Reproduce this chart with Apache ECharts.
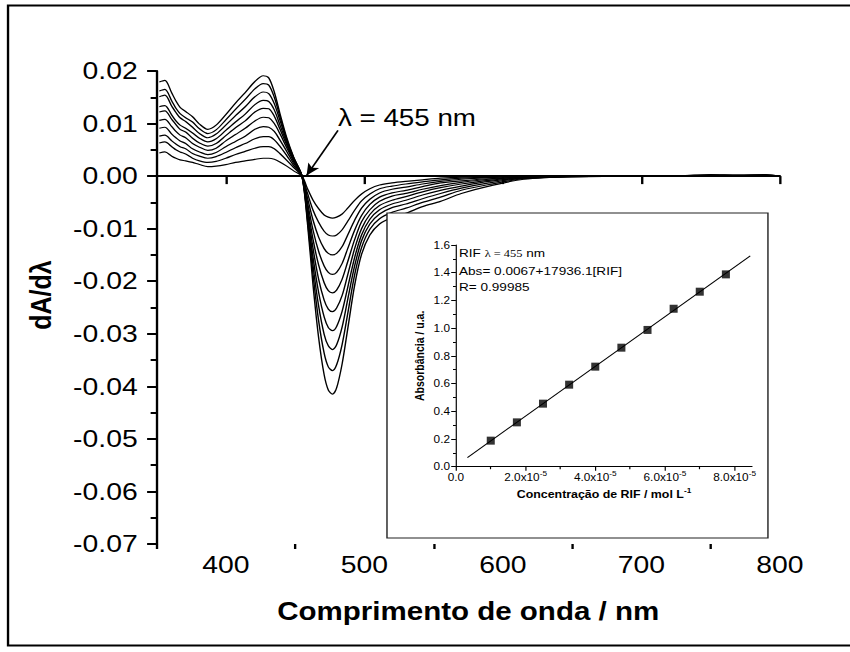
<!DOCTYPE html>
<html>
<head>
<meta charset="utf-8">
<script src="https://cdn.jsdelivr.net/npm/echarts@6/dist/echarts.min.js"></script>
<style>
  html, body { margin: 0; padding: 0; background: #fff; overflow: hidden; }
  /* the reference picture is stretched sideways, so draw at 720 px and stretch to 850 */
  #chart { width: 720px; height: 652px; transform: scaleX(1.180556); transform-origin: 0 0; }
</style>
</head>
<body>
<div id="chart"></div>
<script>
// wavelength grid (nm)
const wavelengths = [352, 356, 361, 364, 367, 371, 376, 381, 387, 393, 400, 407, 414, 421, 427, 431, 435, 439, 444, 449, 455,
  459, 463, 467, 471, 474, 477, 480, 484, 488, 493, 498, 504, 511, 520, 530, 542, 555, 570, 590, 615, 650, 700, 730, 750, 770, 790, 800];

// first derivative spectra dA/dλ, lowest concentration first
const dA1 = [0.0044, 0.0046, 0.0038, 0.0034, 0.0031, 0.0029, 0.0026, 0.0022, 0.0018, 0.0019, 0.0022, 0.0026, 0.0029, 0.0032, 0.0034, 0.0034, 0.0032, 0.0027, 0.0019, 0.0010, 0,
  -0.0024, -0.0046, -0.0062, -0.0074, -0.0078, -0.0080, -0.0078, -0.0072, -0.0061, -0.0046, -0.0034, -0.0024, -0.0017, -0.0013, -0.0010, -0.0007, -0.0004, -0.0002, -0.0001, 0, 0, 0, 0, 0, 0, 0, 0];
const dA2 = [0.0063, 0.0065, 0.0056, 0.0050, 0.0046, 0.0042, 0.0034, 0.0029, 0.0026, 0.0028, 0.0034, 0.0041, 0.0047, 0.0053, 0.0056, 0.0056, 0.0052, 0.0043, 0.0030, 0.0016, 0,
  -0.0033, -0.0065, -0.0088, -0.0105, -0.0112, -0.0114, -0.0112, -0.0102, -0.0086, -0.0065, -0.0047, -0.0034, -0.0024, -0.0019, -0.0015, -0.0011, -0.0007, -0.0004, -0.0002, -0.0001, 0, 0, 0, 0, 0, 0, 0];
const dA3 = [0.0076, 0.0078, 0.0067, 0.0061, 0.0056, 0.0052, 0.0043, 0.0038, 0.0034, 0.0037, 0.0045, 0.0054, 0.0062, 0.0071, 0.0075, 0.0075, 0.0069, 0.0057, 0.0039, 0.0020, 0,
  -0.0042, -0.0084, -0.0116, -0.0138, -0.0147, -0.0150, -0.0147, -0.0134, -0.0112, -0.0084, -0.0061, -0.0044, -0.0032, -0.0025, -0.0021, -0.0015, -0.0010, -0.0006, -0.0003, -0.0001, 0, 0, 0, 0, 0, 0, 0];
const dA4 = [0.0091, 0.0093, 0.0080, 0.0073, 0.0067, 0.0062, 0.0052, 0.0046, 0.0041, 0.0045, 0.0056, 0.0066, 0.0076, 0.0089, 0.0094, 0.0093, 0.0085, 0.0069, 0.0047, 0.0024, 0,
  -0.0051, -0.0103, -0.0143, -0.0171, -0.0183, -0.0187, -0.0183, -0.0166, -0.0138, -0.0103, -0.0075, -0.0054, -0.0040, -0.0032, -0.0027, -0.0020, -0.0013, -0.0009, -0.0005, -0.0002, 0, 0, 0, 0, 0, 0, 0];
const dA5 = [0.0106, 0.0108, 0.0094, 0.0085, 0.0078, 0.0073, 0.0062, 0.0055, 0.0049, 0.0053, 0.0067, 0.0079, 0.0091, 0.0105, 0.0112, 0.0111, 0.0100, 0.0081, 0.0054, 0.0028, 0,
  -0.0059, -0.0121, -0.0169, -0.0203, -0.0218, -0.0222, -0.0217, -0.0196, -0.0163, -0.0121, -0.0087, -0.0064, -0.0048, -0.0038, -0.0033, -0.0025, -0.0018, -0.0012, -0.0006, -0.0002, 0, 0, 0, 0, 0, 0, 0];
const dA6 = [0.0122, 0.0124, 0.0108, 0.0098, 0.0089, 0.0084, 0.0072, 0.0063, 0.0057, 0.0062, 0.0077, 0.0092, 0.0105, 0.0122, 0.0129, 0.0128, 0.0114, 0.0090, 0.0059, 0.0030, 0,
  -0.0066, -0.0138, -0.0196, -0.0236, -0.0253, -0.0258, -0.0251, -0.0227, -0.0188, -0.0138, -0.0100, -0.0073, -0.0056, -0.0046, -0.0039, -0.0030, -0.0022, -0.0015, -0.0008, -0.0003, 0, 0, 0, 0, 0, 0, 0];
const dA7 = [0.0132, 0.0134, 0.0116, 0.0105, 0.0097, 0.0091, 0.0082, 0.0072, 0.0065, 0.0071, 0.0087, 0.0103, 0.0118, 0.0136, 0.0144, 0.0142, 0.0126, 0.0098, 0.0063, 0.0032, 0,
  -0.0073, -0.0155, -0.0221, -0.0268, -0.0288, -0.0294, -0.0286, -0.0257, -0.0212, -0.0155, -0.0112, -0.0082, -0.0064, -0.0053, -0.0046, -0.0036, -0.0027, -0.0019, -0.0010, -0.0004, -0.0001, 0, 0, 0, 0, 0, 0];
const dA8 = [0.0151, 0.0154, 0.0133, 0.0121, 0.0111, 0.0104, 0.0093, 0.0081, 0.0073, 0.0080, 0.0097, 0.0115, 0.0132, 0.0151, 0.0160, 0.0157, 0.0138, 0.0107, 0.0067, 0.0034, 0,
  -0.0079, -0.0171, -0.0247, -0.0301, -0.0323, -0.0330, -0.0321, -0.0287, -0.0235, -0.0171, -0.0123, -0.0091, -0.0072, -0.0060, -0.0053, -0.0043, -0.0033, -0.0023, -0.0013, -0.0004, -0.0001, 0, 0, 0.0002, 0.0001, 0.0002, 0];
const dA9 = [0.0162, 0.0165, 0.0143, 0.0129, 0.0119, 0.0111, 0.0103, 0.0090, 0.0081, 0.0088, 0.0107, 0.0127, 0.0146, 0.0166, 0.0176, 0.0173, 0.0150, 0.0114, 0.0070, 0.0035, 0,
  -0.0085, -0.0188, -0.0275, -0.0337, -0.0363, -0.0370, -0.0359, -0.0320, -0.0262, -0.0188, -0.0136, -0.0101, -0.0081, -0.0069, -0.0061, -0.0050, -0.0040, -0.0027, -0.0016, -0.0005, -0.0001, 0, 0.0001, 0.0002, 0.0002, 0.0002, 0];
const dA10 = [0.0179, 0.0182, 0.0158, 0.0143, 0.0131, 0.0123, 0.0113, 0.0099, 0.0089, 0.0097, 0.0117, 0.0139, 0.0159, 0.0180, 0.0191, 0.0187, 0.0160, 0.0120, 0.0073, 0.0036, 0,
  -0.0091, -0.0208, -0.0307, -0.0378, -0.0407, -0.0415, -0.0403, -0.0357, -0.0291, -0.0208, -0.0149, -0.0112, -0.0091, -0.0079, -0.0071, -0.0058, -0.0048, -0.0033, -0.0019, -0.0006, -0.0001, 0, 0.0001, 0.0003, 0.0002, 0.0003, 0];

// tick values of the main x axis
const xMajorTicks = [400, 500, 600, 700, 800];
const xMinorTicks = [350, 450, 550, 650, 750];

// inset: calibration curve at 455 nm
const concentrations = [1.0e-5, 1.75e-5, 2.5e-5, 3.25e-5, 4.0e-5, 4.75e-5, 5.5e-5, 6.25e-5, 7.0e-5, 7.75e-5];
const absorbances = [0.188, 0.32, 0.455, 0.592, 0.722, 0.859, 0.987, 1.14, 1.263, 1.388];
const fitX = [0.33e-5, 8.45e-5];
const fitY = [0.066, 1.522];
const insetXMajor = [0, 2e-5, 4e-5, 6e-5, 8e-5];
const insetXMinor = [1e-5, 3e-5, 5e-5, 7e-5];

// arrow of the "λ = 455 nm" note, in data units
const arrowFrom = [481, 0.0087];
const arrowTo = [458.3, 0.0001];

const black = '#000';
const font = 'Liberation Sans';
const spectra = [dA1, dA2, dA3, dA4, dA5, dA6, dA7, dA8, dA9, dA10];

const chart = echarts.init(document.getElementById('chart'), null, { renderer: 'svg' });

const curveSeries = spectra.map(vals => ({
  type: 'line',
  xAxisIndex: 0,
  yAxisIndex: 0,
  data: wavelengths.map((w, j) => [w, vals[j]]),
  showSymbol: false,
  smooth: 0.3,
  silent: true,
  lineStyle: { color: black, width: 1.2 },
  z: 2
}));
// zero line
curveSeries[0].markLine = {
  silent: true, animation: false,
  symbol: ['none', 'none'],
  label: { show: false },
  lineStyle: { color: black, width: 2, type: 'solid' },
  data: [{ yAxis: 0 }]
};
// arrow pointing at the crossing
curveSeries[1].markLine = {
  silent: true, animation: false,
  symbol: ['none', 'arrow'],
  symbolSize: [8, 12],
  label: { show: false },
  lineStyle: { color: black, width: 1.5, type: 'solid' },
  data: [[{ coord: arrowFrom }, { coord: arrowTo }]]
};

const option = {
  animation: false,
  backgroundColor: '#fff',
  textStyle: { fontFamily: font, color: black },
  grid: [
    { left: 132.6, top: 71, width: 528, height: 473 },
    { left: 386.2, top: 245, width: 250.8, height: 221.7 }
  ],
  xAxis: [
    {
      gridIndex: 0, type: 'value', min: 350, max: 800, position: 'bottom',
      axisLine: { lineStyle: { color: black, width: 2 } },
      axisTick: { customValues: xMajorTicks, length: 8, lineStyle: { color: black, width: 2 } },
      axisLabel: { customValues: xMajorTicks, fontSize: 24, color: black, margin: 9, fontFamily: font },
      splitLine: { show: false },
      name: 'Comprimento de onda / nm',
      nameLocation: 'middle', nameGap: 55,
      nameTextStyle: { fontSize: 25, fontWeight: 'bold', color: black, fontFamily: font }
    },
    {
      gridIndex: 0, type: 'value', min: 350, max: 800, position: 'bottom',
      axisLine: { show: false },
      axisTick: { customValues: xMinorTicks, length: 5, lineStyle: { color: black, width: 2 } },
      axisLabel: { show: false },
      splitLine: { show: false }
    },
    {
      gridIndex: 1, type: 'value', min: 0, max: 8.5e-5, position: 'bottom', z: 110,
      axisLine: { lineStyle: { color: black, width: 1 } },
      axisTick: { customValues: insetXMajor, length: 4, lineStyle: { color: black, width: 1 } },
      axisLabel: {
        customValues: insetXMajor, fontSize: 10, color: black, margin: 4, lineHeight: 14, fontFamily: font,
        formatter: v => v === 0 ? '0.0' : (v * 1e5).toFixed(1) + 'x10{sup|-5}',
        rich: { sup: { fontSize: 7, verticalAlign: 'top', lineHeight: 8, fontFamily: font } }
      },
      splitLine: { show: false },
      name: 'Concentração de RIF / mol L{sup|-1}',
      nameLocation: 'middle', nameGap: 21,
      nameTextStyle: {
        fontSize: 10.5, fontWeight: 'bold', color: black, lineHeight: 14, fontFamily: font,
        rich: { sup: { fontSize: 7, fontWeight: 'bold', verticalAlign: 'top', lineHeight: 8, fontFamily: font } }
      }
    },
    {
      gridIndex: 1, type: 'value', min: 0, max: 8.5e-5, position: 'bottom', z: 110,
      axisLine: { show: false },
      axisTick: { customValues: insetXMinor, length: 2.5, lineStyle: { color: black, width: 1 } },
      axisLabel: { show: false },
      splitLine: { show: false }
    }
  ],
  yAxis: [
    {
      gridIndex: 0, type: 'value', min: -0.07, max: 0.02, interval: 0.01,
      axisLine: { show: true, lineStyle: { color: black, width: 2 } },
      axisTick: { show: true, length: 8, lineStyle: { color: black, width: 2 } },
      minorTick: { show: true, splitNumber: 2, length: 5, lineStyle: { color: black, width: 2 } },
      axisLabel: {
        fontSize: 24, color: black, margin: 16, fontFamily: font,
        formatter: v => (Math.abs(v) < 1e-9 ? 0 : v).toFixed(2)
      },
      splitLine: { show: false }
    },
    {
      gridIndex: 1, type: 'value', min: 0, max: 1.6, interval: 0.2, z: 110,
      axisLine: { show: true, lineStyle: { color: black, width: 1 } },
      axisTick: { show: true, length: 4, lineStyle: { color: black, width: 1 } },
      minorTick: { show: true, splitNumber: 2, length: 2.5, lineStyle: { color: black, width: 1 } },
      axisLabel: { fontSize: 10, color: black, margin: 5, fontFamily: font, formatter: v => v.toFixed(1) },
      splitLine: { show: false },
      name: 'Absorbância / u.a.',
      nameLocation: 'middle', nameGap: 25,
      nameTextStyle: { fontSize: 10.5, fontWeight: 'bold', color: black, fontFamily: font }
    }
  ],
  graphic: [
    // outer frame
    { type: 'rect', z: 0, silent: true, shape: { x: 6.8, y: 5.5, width: 740, height: 640 },
      style: { fill: 'none', stroke: black, lineWidth: 2 } },
    // main y axis title
    { type: 'text', z: 10, x: 34.7, y: 295, rotation: Math.PI / 2, silent: true,
      style: { text: 'dA/dλ', fontSize: 25, fontWeight: 'bold', fontFamily: font, fill: black, align: 'center', verticalAlign: 'middle' } },
    // inset box
    { type: 'rect', z: 100, silent: true, shape: { x: 327.8, y: 213, width: 322.7, height: 325 },
      style: { fill: '#fff', stroke: '#222', lineWidth: 1.2 } },
    { type: 'text', z: 10, x: 286.3, y: 118, silent: true,
      style: { text: 'λ = 455 nm', fontSize: 23.5, fontFamily: font, fill: black, verticalAlign: 'middle' } },
    { type: 'text', z: 130, x: 388.8, y: 253.3, silent: true,
      style: { text: 'RIF {t|λ = 455} nm', fontSize: 11.5, fontFamily: font, fill: black, verticalAlign: 'middle',
        rich: { t: { fontSize: 10.5, fontFamily: 'Liberation Serif', fill: black } } } },
    { type: 'text', z: 130, x: 388.8, y: 271.7, silent: true,
      style: { text: 'Abs= 0.0067+17936.1[RIF]', fontSize: 11.5, fontFamily: font, fill: black, verticalAlign: 'middle' } },
    { type: 'text', z: 130, x: 388.8, y: 287.7, silent: true,
      style: { text: 'R= 0.99985', fontSize: 11.5, fontFamily: font, fill: black, verticalAlign: 'middle' } }
  ],
  series: curveSeries.concat([
    {
      type: 'line', xAxisIndex: 2, yAxisIndex: 1, z: 120, silent: true,
      data: fitX.map((x, i) => [x, fitY[i]]),
      showSymbol: false,
      lineStyle: { color: black, width: 1 }
    },
    {
      type: 'scatter', xAxisIndex: 2, yAxisIndex: 1, z: 121, silent: true,
      data: concentrations.map((c, i) => [c, absorbances[i]]),
      symbol: 'rect', symbolSize: [6.8, 8],
      itemStyle: { color: black }
    }
  ])
};

chart.setOption(option);
</script>
</body>
</html>
